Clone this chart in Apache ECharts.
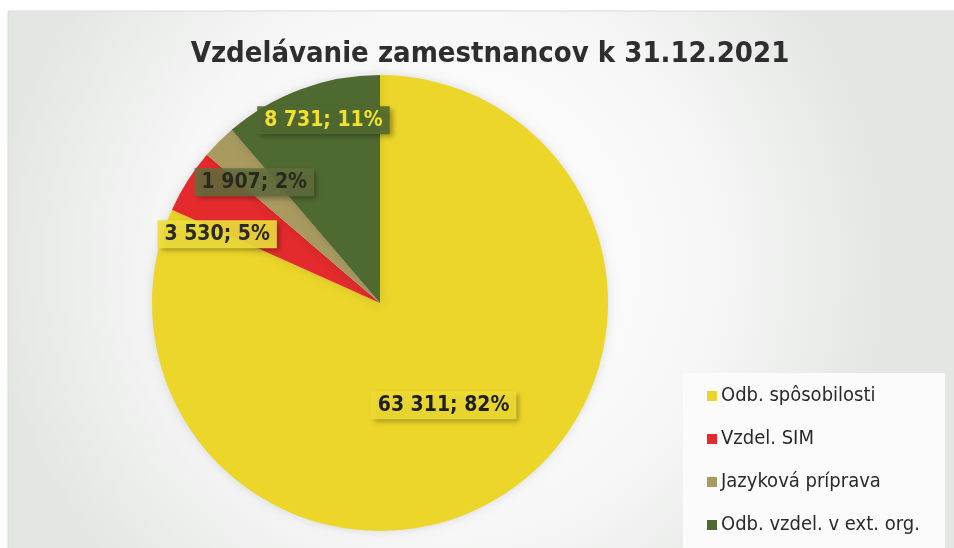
<!DOCTYPE html>
<html>
<head>
<meta charset="utf-8">
<script src="https://cdn.jsdelivr.net/npm/echarts@6/dist/echarts.min.js"></script>
<style>
  html, body { margin: 0; padding: 0; background: #fff; }
  #chart { width: 954px; height: 548px; }
</style>
</head>
<body>
<div id="chart"></div>
<script>
const categories = ['Odb. spôsobilosti', 'Vzdel. SIM', 'Jazyková príprava', 'Odb. vzdel. v ext. org.']
const values = [63311, 3530, 1907, 8731]
const percents = [82, 5, 2, 11]

const colors = ['#ecd62a', '#e42a2c', '#a99a60', '#4f6a30']
// label box look, per slice
const labelBg = ['rgba(240,220,50,0.9)', 'rgba(238,222,60,0.9)', 'rgba(98,110,62,0.85)', 'rgba(80,106,48,0.9)']
const labelColor = ['#1e1e1e', '#2a2a22', '#2a2a1c', '#f4e12c']
const labelOffset = [[0, 4], [-64, -6], [-43, -38], [-16, -73]]

const font = 'DejaVu Sans Condensed, sans-serif'

const chart = echarts.init(document.getElementById('chart'))

const fmt = v => String(v).replace(/\B(?=(\d{3})+(?!\d))/g, ' ')

const pieData = categories.map((name, i) => ({
  name,
  value: values[i],
  itemStyle: { color: colors[i] },
  label: {
    color: labelColor[i],
    backgroundColor: labelBg[i],
    offset: labelOffset[i]
  }
}))

chart.setOption({
  backgroundColor: '#fff',
  animation: false,
  graphic: [
    {
      type: 'rect',
      z: -10,
      shape: { x: 8, y: 11, width: 960, height: 560 },
      style: {
        fill: new echarts.graphic.RadialGradient(0.45, 0.45, 0.8, [
          { offset: 0, color: '#ffffff' },
          { offset: 0.6, color: '#f6f7f6' },
          { offset: 1, color: '#e4e6e4' }
        ]),
        stroke: '#d8dad8',
        lineWidth: 1
      }
    },
    {
      type: 'rect',
      z: -9,
      shape: { x: 683, y: 373, width: 262, height: 180 },
      style: { fill: '#fbfbfb' }
    }
  ],
  title: {
    text: 'Vzdelávanie zamestnancov k 31.12.2021',
    left: 485,
    textAlign: 'center',
    top: 35,
    textStyle: {
      fontFamily: font,
      fontWeight: 'bold',
      fontSize: 29,
      color: '#2e2e2e'
    }
  },
  legend: {
    orient: 'vertical',
    left: 702,
    top: 381,
    itemGap: 23,
    itemWidth: 10,
    itemHeight: 10,
    icon: 'rect',
    data: categories,
    textStyle: {
      fontFamily: font,
      fontSize: 20,
      color: '#2a2a2a',
      padding: [0, 0, 0, -1]
    }
  },
  series: [
    {
      type: 'pie',
      center: [380, 303],
      radius: 228,
      startAngle: 90,
      clockwise: true,
      itemStyle: {
        shadowBlur: 10,
        shadowColor: 'rgba(0,0,0,0.12)'
      },
      label: {
        show: true,
        position: 'inside',
        formatter: p => fmt(p.value) + '; ' + percents[p.dataIndex] + '%',
        fontFamily: font,
        fontWeight: 'bold',
        fontSize: 21,
        padding: [4, 7, 3, 7],
        shadowBlur: 5,
        shadowOffsetX: 3,
        shadowOffsetY: 3,
        shadowColor: 'rgba(0,0,0,0.35)'
      },
      labelLine: { show: false },
      emphasis: { disabled: true },
      data: pieData
    }
  ]
})
</script>
</body>
</html>
